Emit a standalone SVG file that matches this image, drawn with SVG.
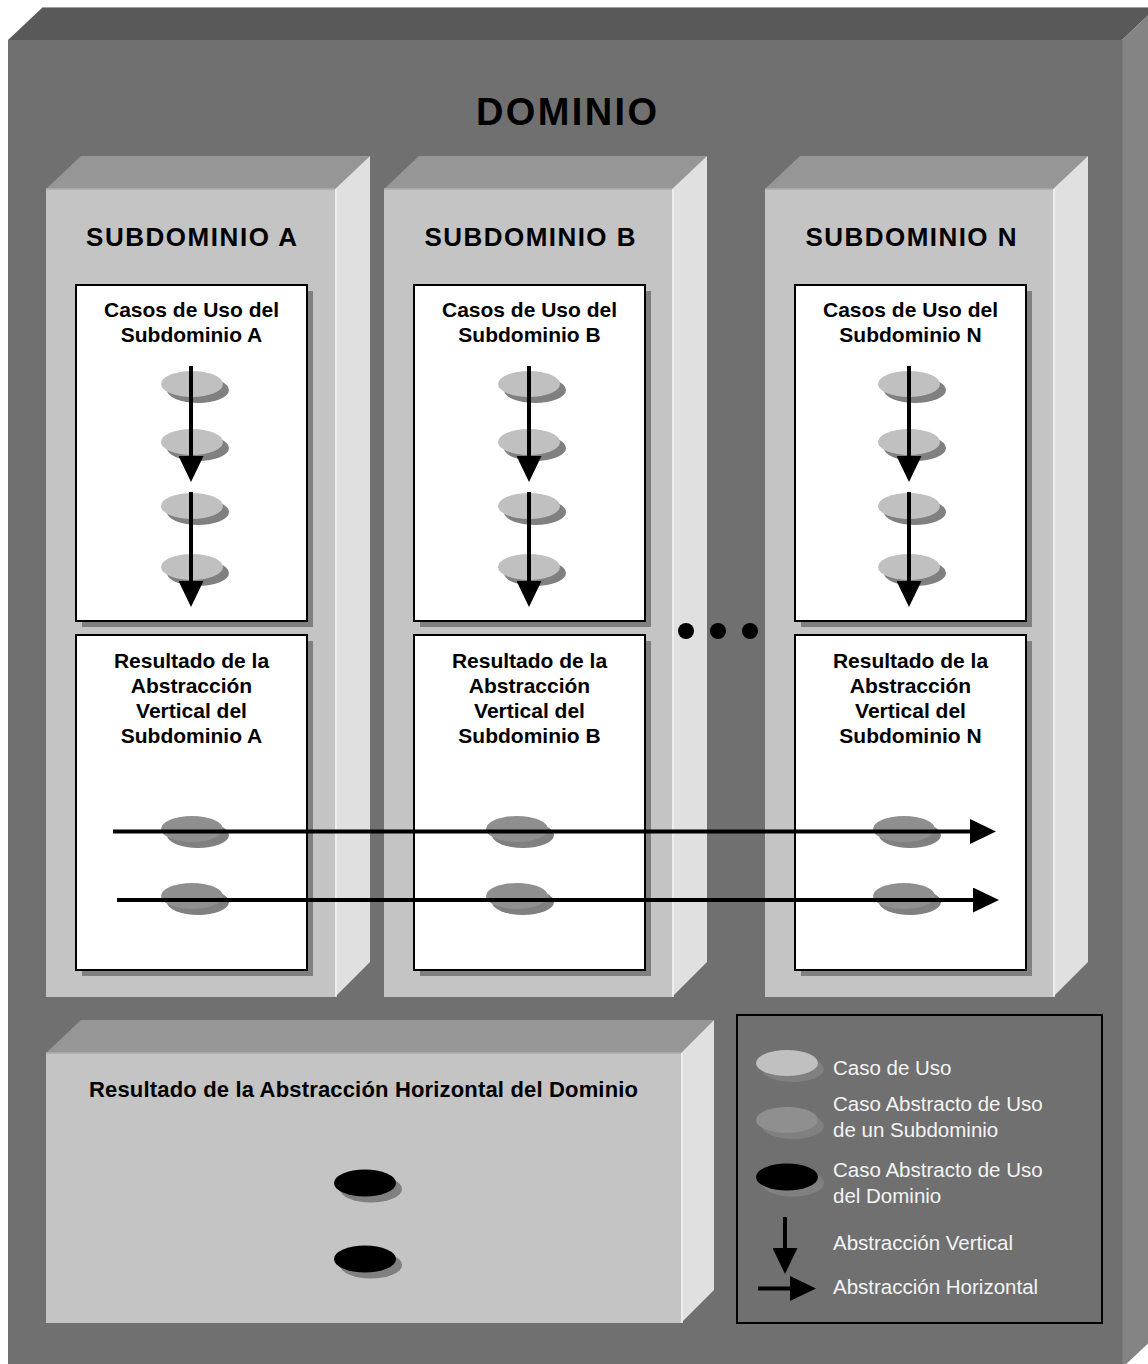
<svg xmlns="http://www.w3.org/2000/svg" width="1148" height="1364" viewBox="0 0 1148 1364">
  <style>
    text { font-family: "Liberation Sans", Arial, sans-serif; }
    .o-top { fill: #595959; }
    .o-front { fill: #707070; }
    .o-side { fill: #848484; }
    .s-top { fill: #969696; }
    .s-front { fill: #c4c4c4; }
    .s-side { fill: #e0e0e0; }
    .edge-hi { stroke: #f2f2f2; stroke-width: 1.5; }
    .edge-top { stroke: #acacac; stroke-width: 1.5; }
    .card { fill: #ffffff; stroke: #000000; stroke-width: 2; }
    .card-shadow { fill: #808080; }
    .uc { fill: #c0c0c0; }
    .auc { fill: #8f8f8f; }
    .duc { fill: #000000; }
    .ushadow { fill: #808080; }
    .title { font-size: 38px; font-weight: bold; fill: #000; text-anchor: middle; }
    .sub { font-size: 26px; font-weight: bold; fill: #000; text-anchor: middle; }
    .lbl { font-size: 21px; font-weight: bold; fill: #000; text-anchor: middle; }
    .lgd { font-size: 20.5px; fill: #f4f4f4; }
    .arrow { stroke: #000; stroke-width: 4; fill: none; marker-end: url(#head); }
  </style>
  <defs>
    <marker id="head" markerUnits="userSpaceOnUse" markerWidth="26" markerHeight="25" viewBox="0 0 26 25" refX="2" refY="12.5" orient="auto">
      <path d="M0,0 L26,12.5 L0,25 Z" fill="#000"/>
    </marker>
    <g id="uc-light"><ellipse class="ushadow" cx="6" cy="6" rx="31" ry="13"/><ellipse class="uc" cx="0" cy="0" rx="31" ry="13"/></g>
    <g id="uc-abs"><ellipse class="ushadow" cx="6" cy="6" rx="31" ry="13"/><ellipse class="auc" cx="0" cy="0" rx="31" ry="13"/></g>
    <g id="uc-dom"><ellipse class="ushadow" cx="6" cy="6" rx="31" ry="13.5"/><ellipse class="duc" cx="0" cy="0" rx="31" ry="13.5"/></g>
  </defs>

  <rect width="1148" height="1364" fill="#ffffff"/>

  <!-- domain block -->
  <g id="dominio">
    <polygon class="o-top" points="8,40 43,7 1157,7 1122,40"/>
    <line x1="43" y1="7.5" x2="1157" y2="7.5" stroke="#a0a0a0" stroke-width="1"/>
    <rect class="o-front" x="8" y="40" width="1114" height="1328"/>
    <polygon class="o-side" points="1122,40 1157,7 1157,1335 1122,1368"/>
    <line x1="1122.5" y1="40" x2="1122.5" y2="1368" stroke="#7a7a7a" stroke-width="1"/>
    <text class="title" x="566.5" y="125" textLength="181" lengthAdjust="spacing">DOMINIO</text>
  </g>

  <!-- subdomain A -->
  <g id="subdominio-a">
    <polygon class="s-top" points="46,189 81,156 370,156 335,189"/>
    <rect class="s-front" x="46" y="189" width="289" height="808"/>
    <polygon class="s-side" points="335,189 370,156 370,962 335,997"/>
    <line class="edge-top" x1="46" y1="189" x2="335" y2="189"/>
    <line class="edge-hi" x1="336" y1="189" x2="336" y2="997"/>
    <text class="sub" x="191.5" y="246" textLength="211" lengthAdjust="spacing">SUBDOMINIO A</text>
  </g>
  <g id="casos-a">
    <rect class="card-shadow" x="82" y="291" width="231" height="336"/>
    <rect class="card" x="76" y="285" width="231" height="336"/>
    <text class="lbl" x="191.5" y="317">Casos de Uso del</text>
    <text class="lbl" x="191.5" y="342">Subdominio A</text>
    <use href="#uc-light" x="192" y="384"/>
    <use href="#uc-light" x="192" y="442"/>
    <use href="#uc-light" x="192" y="506"/>
    <use href="#uc-light" x="192" y="567"/>
  </g>
  <g id="resultado-a">
    <rect class="card-shadow" x="82" y="641" width="231" height="335"/>
    <rect class="card" x="76" y="635" width="231" height="335"/>
    <text class="lbl" x="191.5" y="668">Resultado de la</text>
    <text class="lbl" x="191.5" y="693">Abstracción</text>
    <text class="lbl" x="191.5" y="718">Vertical del</text>
    <text class="lbl" x="191.5" y="743">Subdominio A</text>
    <use href="#uc-abs" x="192" y="829"/>
    <use href="#uc-abs" x="192" y="896"/>
  </g>

  <!-- subdomain B -->
  <g id="subdominio-b">
    <polygon class="s-top" points="384,189 419,156 707,156 672,189"/>
    <rect class="s-front" x="384" y="189" width="288" height="808"/>
    <polygon class="s-side" points="672,189 707,156 707,962 672,997"/>
    <line class="edge-top" x1="384" y1="189" x2="672" y2="189"/>
    <line class="edge-hi" x1="673" y1="189" x2="673" y2="997"/>
    <text class="sub" x="530" y="246" textLength="211" lengthAdjust="spacing">SUBDOMINIO B</text>
  </g>
  <g id="casos-b">
    <rect class="card-shadow" x="420" y="291" width="231" height="336"/>
    <rect class="card" x="414" y="285" width="231" height="336"/>
    <text class="lbl" x="529.5" y="317">Casos de Uso del</text>
    <text class="lbl" x="529.5" y="342">Subdominio B</text>
    <use href="#uc-light" x="529" y="384"/>
    <use href="#uc-light" x="529" y="442"/>
    <use href="#uc-light" x="529" y="506"/>
    <use href="#uc-light" x="529" y="567"/>
  </g>
  <g id="resultado-b">
    <rect class="card-shadow" x="420" y="641" width="231" height="335"/>
    <rect class="card" x="414" y="635" width="231" height="335"/>
    <text class="lbl" x="529.5" y="668">Resultado de la</text>
    <text class="lbl" x="529.5" y="693">Abstracción</text>
    <text class="lbl" x="529.5" y="718">Vertical del</text>
    <text class="lbl" x="529.5" y="743">Subdominio B</text>
    <use href="#uc-abs" x="517" y="829"/>
    <use href="#uc-abs" x="517" y="896"/>
  </g>

  <!-- subdomain N -->
  <g id="subdominio-n">
    <polygon class="s-top" points="765,189 800,156 1088,156 1053,189"/>
    <rect class="s-front" x="765" y="189" width="288" height="808"/>
    <polygon class="s-side" points="1053,189 1088,156 1088,962 1053,997"/>
    <line class="edge-top" x1="765" y1="189" x2="1053" y2="189"/>
    <line class="edge-hi" x1="1054" y1="189" x2="1054" y2="997"/>
    <text class="sub" x="911" y="246" textLength="211" lengthAdjust="spacing">SUBDOMINIO N</text>
  </g>
  <g id="casos-n">
    <rect class="card-shadow" x="801" y="291" width="231" height="336"/>
    <rect class="card" x="795" y="285" width="231" height="336"/>
    <text class="lbl" x="910.5" y="317">Casos de Uso del</text>
    <text class="lbl" x="910.5" y="342">Subdominio N</text>
    <use href="#uc-light" x="909" y="384"/>
    <use href="#uc-light" x="909" y="442"/>
    <use href="#uc-light" x="909" y="506"/>
    <use href="#uc-light" x="909" y="567"/>
  </g>
  <g id="resultado-n">
    <rect class="card-shadow" x="801" y="641" width="231" height="335"/>
    <rect class="card" x="795" y="635" width="231" height="335"/>
    <text class="lbl" x="910.5" y="668">Resultado de la</text>
    <text class="lbl" x="910.5" y="693">Abstracción</text>
    <text class="lbl" x="910.5" y="718">Vertical del</text>
    <text class="lbl" x="910.5" y="743">Subdominio N</text>
    <use href="#uc-abs" x="904" y="829"/>
    <use href="#uc-abs" x="904" y="896"/>
  </g>

  <!-- ellipsis between B and N -->
  <g id="ellipsis" fill="#000">
    <circle cx="686" cy="631" r="8"/>
    <circle cx="718" cy="631" r="8"/>
    <circle cx="750" cy="631" r="8"/>
  </g>

  <!-- horizontal abstraction result -->
  <g id="resultado-horizontal">
    <polygon class="s-top" points="46,1053 81,1020 714,1020 681,1053"/>
    <rect class="s-front" x="46" y="1053" width="635" height="270"/>
    <polygon class="s-side" points="681,1053 714,1020 714,1290 681,1323"/>
    <line class="edge-top" x1="46" y1="1053" x2="681" y2="1053"/>
    <line class="edge-hi" x1="682" y1="1053" x2="682" y2="1323"/>
    <text class="lbl" x="363.5" y="1097" style="font-size:22px" textLength="549" lengthAdjust="spacing">Resultado de la Abstracción Horizontal del Dominio</text>
    <use href="#uc-dom" x="365" y="1183"/>
    <use href="#uc-dom" x="365" y="1259"/>
  </g>

  <!-- legend -->
  <g id="leyenda">
    <rect x="737" y="1015" width="365" height="308" fill="#707070" stroke="#000" stroke-width="2"/>
    <use href="#uc-light" x="787" y="1063"/>
    <text class="lgd" x="833" y="1075">Caso de Uso</text>
    <use href="#uc-abs" x="787" y="1120"/>
    <text class="lgd" x="833" y="1111">Caso Abstracto de Uso</text>
    <text class="lgd" x="833" y="1137">de un Subdominio</text>
    <use href="#uc-dom" x="787" y="1177"/>
    <text class="lgd" x="833" y="1177">Caso Abstracto de Uso</text>
    <text class="lgd" x="833" y="1203">del Dominio</text>
    <line class="arrow" x1="785" y1="1217" x2="785" y2="1250"/>
    <text class="lgd" x="833" y="1250">Abstracción Vertical</text>
    <line class="arrow" x1="758" y1="1288.5" x2="792" y2="1288.5"/>
    <text class="lgd" x="833" y="1294">Abstracción Horizontal</text>
  </g>

  <!-- abstraction connectors -->
  <g id="connectors">
    <line class="arrow" x1="191" y1="366" x2="191" y2="458"/>
    <line class="arrow" x1="191" y1="492" x2="191" y2="583"/>
    <line class="arrow" x1="529" y1="366" x2="529" y2="458"/>
    <line class="arrow" x1="529" y1="492" x2="529" y2="583"/>
    <line class="arrow" x1="909" y1="366" x2="909" y2="458"/>
    <line class="arrow" x1="909" y1="492" x2="909" y2="583"/>
    <line class="arrow" x1="113" y1="831.5" x2="972" y2="831.5"/>
    <line class="arrow" x1="117" y1="900" x2="975" y2="900"/>
  </g>
</svg>
